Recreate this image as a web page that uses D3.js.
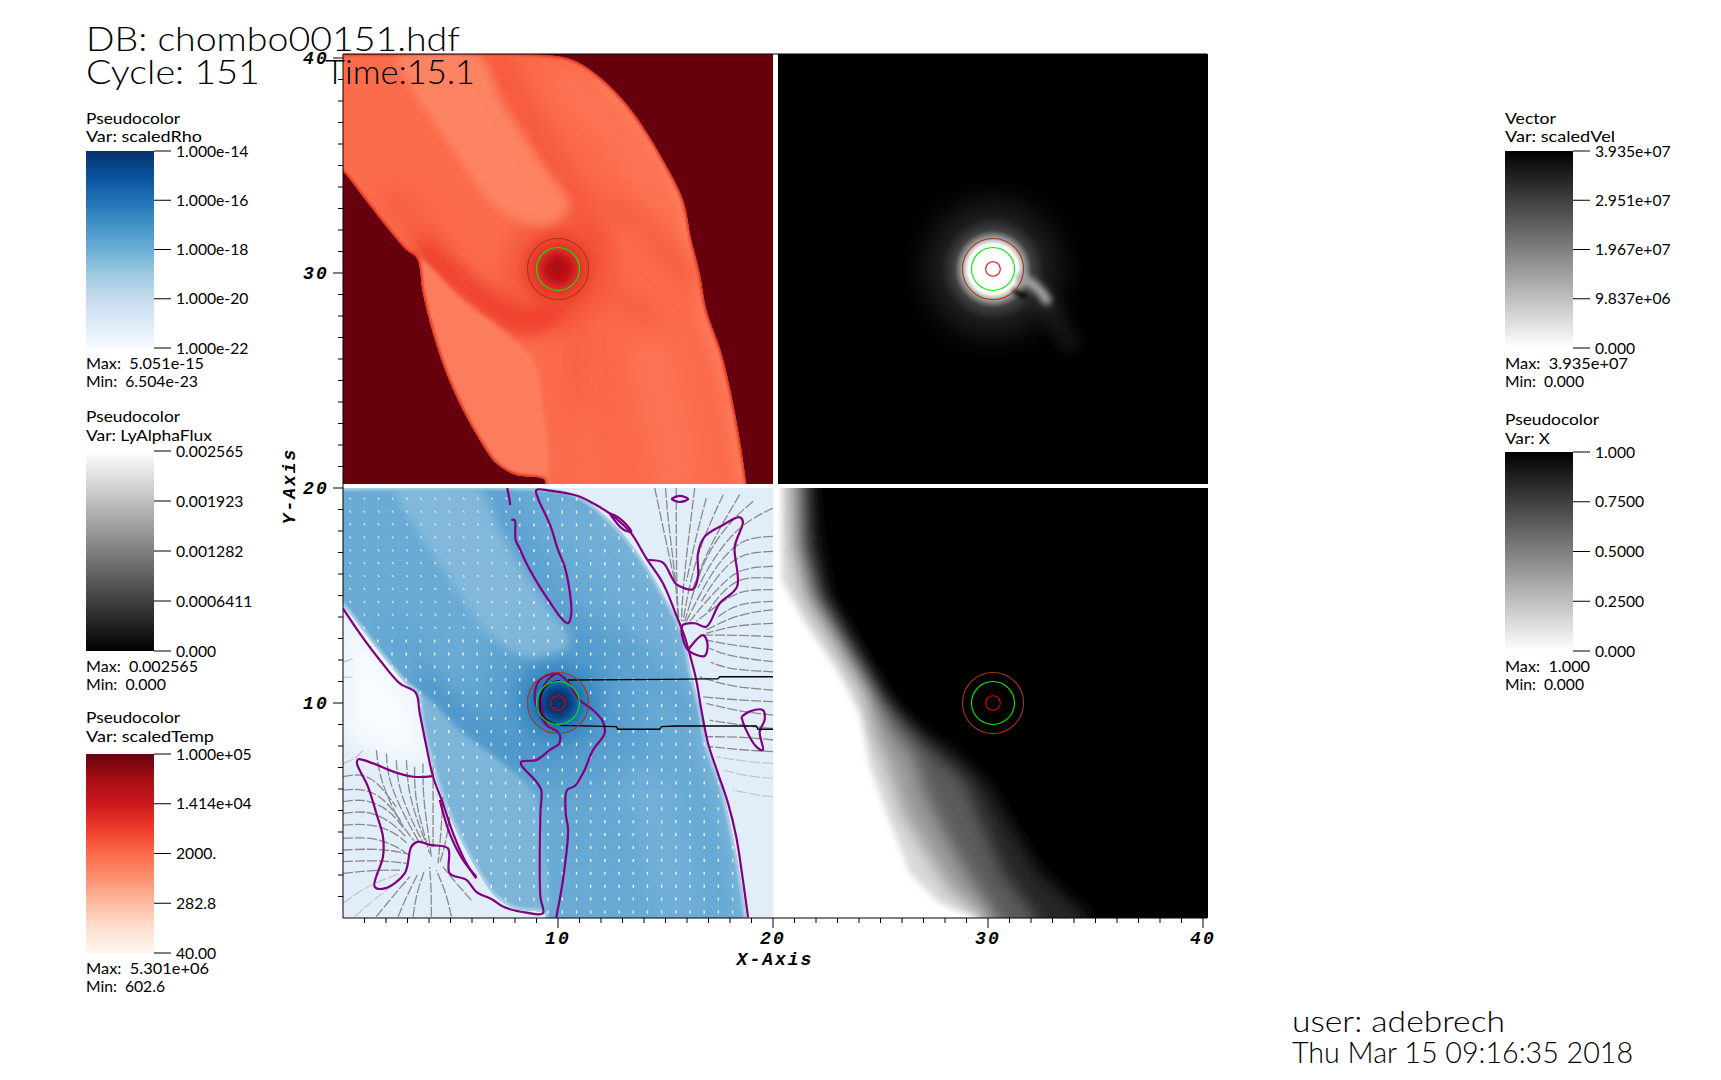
<!DOCTYPE html>
<html><head><meta charset="utf-8">
<script src="https://cdnjs.cloudflare.com/ajax/libs/d3/7.8.5/d3.min.js"></script>
<style>html,body{margin:0;padding:0;background:#fff}svg{display:block}text{font-family:Lato,"Open Sans",sans-serif;font-weight:400;fill:#000;white-space:pre}</style>
</head><body><div id="chart"></div>
<script>
// ---------- DATA (all coordinates in axis units of one 20x20 panel) ----------
const titleLines=["DB: chombo00151.hdf","Cycle: 151","Time:15.1"];
const footerLines=["user: adebrech","Thu Mar 15 09:16:35 2018"];
const xMajor=[10,20,30,40], yMajor=[10,20,30,40];
const rhoTicks=["1.000e-14","1.000e-16","1.000e-18","1.000e-20","1.000e-22"];
const lyaTicks=["0.002565","0.001923","0.001282","0.0006411","0.000"];
const tempTicks=["1.000e+05","1.414e+04","2000.","282.8","40.00"];
const velTicks=["3.935e+07","2.951e+07","1.967e+07","9.837e+06","0.000"];
const xTicks=["1.000","0.7500","0.5000","0.2500","0.000"];
const blues=['#08306b','#08519c','#2171b5','#4292c6','#6baed6','#9ecae1','#c6dbef','#deebf7','#f7fbff'];
const reds=['#67000d','#a50f15','#cb181d','#ef3b2c','#fb6a4a','#fc9272','#fcbba1','#fee0d2','#fff5f0'];
const blackToWhite=['#000000','#ffffff'];
const whiteToBlack=['#ffffff','#000000'];

const center=[10,10];
const ringRadii={red:0.34,green:1.0,brown:1.42};

const flowEdge=[[0,20],[10.08,19.88],[11.16,19.49],[12.09,18.79],[13.02,17.86],[13.95,16.62],[14.88,15.07],[15.81,13.21],[16.2,11.35],[16.59,9.8],[16.9,8.09],[17.6,6.08],[18.14,3.75],[18.53,1.58],[18.76,0],[18.85,-.6],[9.38,-.6],[9.38,.19],[8.06,.42],[7.13,.96],[6.36,2.05],[5.58,3.44],[4.81,5.15],[4.19,7.0],[3.72,8.87],[3.44,10.5],[2.95,10.88],[2.02,11.97],[.93,13.36],[0,14.53]];

const bandArcPoly=[[3.44,10.5],[5.58,8.56],[7.44,7.16],[8.99,6.93],[10.23,7.71],[10.54,8.87],[8.68,8.25],[6.82,9.18],[4.81,10.73],[3.72,11.5]];
const bandPeachPoly=[[3.44,10.5],[5.58,8.56],[7.44,7.16],[8.84,5.77],[9.3,3.6],[9.38,0],[7.13,0],[4.65,4.37],[3.44,8.25]];
const bandUpperPoly=[[2.48,20],[6.2,20],[7.44,17.7],[9.46,14.6],[10.54,12.9],[9.3,11.97],[7.13,12.9],[4.81,16.0],[3.26,18.33]];
const bandDiag=[[7.13,19.88],[8.53,17.09],[10.08,14.6],[11.16,12.9],[11.78,11.5],[11.78,10.57]];
const bandRightArm=[[12.4,12.9],[13.64,12.43],[15.04,10.73],[16.43,9.33]];
const bandDown=[[10.85,8.25],[10.78,5.92],[10.93,3.6]];
const bandWake=[[11.78,9.18],[13.33,8.4],[14.42,7.32]];
const bandLeftArm=[[2.33,13.36],[3.41,12.12],[4.5,10.73]];
const bandStreak=[[12.25,7.0],[12.25,3.6],[12.71,.03]];
const lightStripe=[[14.11,6.7],[14.88,3.6],[15.66,.03]];
const lightStripe2=[[11.47,5.15],[11.63,.03]];
const lightUpperRight=[[10.23,18.6],[12.56,16.8],[14.11,14.14],[15.04,11.97]];
const lightRim=[[12.09,18.79],[13.02,17.86],[13.95,16.62],[14.88,15.07],[15.81,13.21],[16.2,11.35],[16.59,9.8],[16.9,8.09],[17.6,6.08],[18.14,3.75],[18.53,1.58],[18.76,0]];
const pocketWhite=[[0,14.5],[3.4,10.4],[4.1,7.0],[1.5,7.6],[0,8.6]];

// purple contours of the lower-left panel
const contourA=[[7.64,20],[7.72,19.6],[7.78,19.21]];
const contourB=[[7.83,18.51],[7.98,18.51],[8.03,17.58],[8.22,17.19],[8.53,16.5],[9.15,15.41],[9.61,14.71],[10.16,13.94],[10.47,13.71],[10.62,14.17],[10.51,15.41],[10.31,16.34],[10.0,17.12],[9.69,18.12],[9.46,18.67],[9.07,19.52],[8.99,19.91],[9.61,19.88],[10.93,19.63],[11.63,19.29],[12.4,18.82],[12.87,18.43],[13.41,17.89],[14.11,16.73],[14.88,15.57],[15.5,14.09],[15.89,13.09],[16.2,12.0],[16.43,11.07],[16.67,9.67],[16.98,8.12],[17.44,6.73],[17.91,5.33],[18.29,3.78],[18.6,1.77],[18.84,.03]];
const contourLoop=[[12.4,18.82],[12.87,18.59],[13.41,17.97],[13.02,18.08],[12.4,18.82]];
const contourRightLobe=[[14.19,16.65],[14.88,16.53],[15.27,15.88],[15.5,15.53],[16.28,15.29],[16.51,15.88],[16.51,16.96],[16.82,17.74],[17.67,18.28],[18.45,18.64],[18.6,18.43],[18.22,17.27],[18.33,15.41],[17.52,14.64],[16.9,13.55],[16.36,13.71],[15.81,13.63],[15.74,13.4],[16.05,12.47],[16.82,12.19],[16.95,12.78],[16.74,13.16],[16.05,12.47]];
const contourEllipse=[[15.27,19.49],[15.66,19.63],[16.05,19.49],[15.66,19.35],[15.27,19.49]];
const contourSmallRight=[[18.53,9.36],[18.91,9.6],[19.53,9.67],[19.61,9.21],[19.38,8.67],[19.53,7.81],[19.22,7.97],[18.68,8.9],[18.53,9.36]];
const contourLeft=[[0,14.4],[.78,13.24],[1.71,12.0],[2.64,10.91],[3.38,10.48],[3.57,9.52],[3.88,7.97],[4.19,6.57],[4.65,5.33],[5.12,3.94],[5.74,2.54],[6.2,1.84]];
const contourLeftInner=[[4.5,5.49],[4.96,3.94],[5.58,2.7],[6.2,1.92]];
const contourLong=[[4.19,6.6],[3.26,6.57],[2.33,6.81],[1.4,7.19],[.7,7.38],[.65,7.19],[1.16,6.11],[1.55,4.87],[1.86,3.78],[1.86,2.85],[1.47,1.46],[1.94,1.38],[2.87,2.08],[3.18,3.32],[3.49,3.55],[4.03,3.4],[4.88,3.24],[4.96,2.08],[5.74,1.77],[6.2,1.22],[6.98,.84],[7.44,.53],[8.53,.25],[9.3,.22],[9.18,.99],[9.18,4.87],[9.22,5.95],[8.99,6.34],[8.29,7.12],[8.29,7.27],[8.99,7.35],[9.61,7.81],[10.05,8.12],[10.05,8.59],[9.46,8.98],[9.07,9.67],[8.91,10.29],[9.15,11.07],[9.92,11.38],[10.39,11.07],[11.01,10.14],[11.63,9.67],[12.09,9.13],[12.17,8.59],[11.63,7.81],[11.16,6.73],[10.78,6.14],[10.42,5.95],[10.36,4.87],[10.47,4.09],[10.23,1.77],[9.92,.03]];
const contourInnerArc=[[9.46,8.98],[9.3,9.6],[9.22,10.29],[9.46,11.0],[9.92,11.38]];

// black contour pieces
const blackTop=[[10.47,11.07],[14.96,11.1],[16.9,11.12],[17.44,11.12],[17.52,11.22],[20,11.22]];
const blackArc=[[10.08,11.04],[9.61,10.91],[9.22,10.45],[9.15,9.98],[9.3,9.36],[9.92,9.01]];
const blackBottom=[[10.08,8.96],[12.71,8.9],[12.79,8.78],[14.73,8.78],[14.81,8.9],[15.5,8.93],[19.22,8.93],[19.3,8.78],[20,8.78]];

// grey velocity streaks read from the outflow regions
const streaksDark=[
[[14.5,20],[14.89,18.14],[15.43,15.66]],[[15.0,20],[15.12,18.45],[15.51,15.5],[15.58,13.8]],[[15.5,20],[15.5,15.35],[15.63,13.8]],
[[16.36,20],[16.13,18.14],[15.82,15.5],[15.74,13.8]],[[16.9,19.53],[16.44,17.83],[15.97,15.66]],[[17.68,19.69],[16.75,17.67],[16.13,15.66],[15.82,13.8]],
[[18.45,19.69],[17.06,17.36],[16.28,15.35]],[[19.07,19.38],[18.0,18.45],[17,17.05],[16.44,15.66],[15.9,13.8]],[[20,19.07],[18.45,18.3],[17.22,16.74],[16.5,15.35]],
[[20,17.75],[18.45,17.67],[17.29,16.28],[16.59,15.04],[15.97,13.8]],[[20,17.05],[18.45,16.98],[17.44,15.97],[16.67,14.73]],[[20,16.36],[18.45,16.28],[17.6,15.5],[16.75,14.57],[16.13,13.8]],
[[20,15.81],[18.45,15.89],[17.52,15.04],[16.98,14.26]],[[20,15.27],[18.45,15.27],[17.44,14.57],[16.44,13.8]],[[20,14.73],[18.3,14.65],[17.37,13.95]],
[[20,14.33],[18.45,14.17],[16.9,13.4]],[[20,13.7],[18.29,13.63],[16.9,13.24]],[[20,13.09],[18.14,13.16],[16.59,13.16]],[[20,12.47],[17.98,12.7],[16.9,12.93]],[[20,11.92],[17.98,12.16],[17.05,12.54]],[[20,11.45],[18,11.55],[17.1,11.9]],
[[20,10.6],[17.98,10.76],[16.59,11.22]],[[20,10.06],[18.29,10.14],[16.74,10.29]],[[20,9.44],[18.45,9.6],[16.9,9.98]],[[20,8.82],[19,8.9],[17.05,9.2]],[[20,8.28],[18.6,8.43],[16.9,8.43]],[[20,7.74],[18.6,7.81],[17.05,7.97]],
[[1.55,7.81],[1.71,6.41],[2.64,4.4],[3.3,3.6]],[[2.02,7.65],[2.09,6.41],[2.87,4.71],[3.5,3.6]],[[2.48,7.34],[2.56,6.1],[3.18,4.55],[3.7,3.55]],[[2.95,7.34],[3.02,5.95],[3.49,4.4],[3.9,3.4]],
[[3.33,7.03],[3.33,5.64],[3.72,4.09],[4.03,3.0]],[[3.72,7.19],[3.72,5.64],[3.95,4.09],[4.11,2.85]],[[4.19,7.03],[4.19,5.33],[4.19,3.31]],[[4.65,5.64],[4.57,4.09],[4.42,2.54]],[[4.96,4.71],[4.81,3.62],[4.5,2.54]],
[[0,5.95],[.93,6.03],[1.86,5.64],[2.7,4.5]],[[0,6.57],[.78,6.72],[1.55,6.41],[2.48,5.17]],[[0,5.41],[1.09,5.56],[2.17,5.02],[2.8,4.2]],[[0,4.86],[1.24,5.02],[2.33,4.4],[2.9,3.8]],[[0,4.32],[1.4,4.4],[2.48,3.93],[2.95,3.5]],[[0,3.7],[1.4,3.78],[2.56,3.31],[3.1,2.9]],[[0,3.16],[1.71,3.24],[2.95,3.0]],[[0,2.62],[1.71,2.69],[2.95,2.54]],[[0,2.07],[1.4,2.23],[2.64,2.23]],
[[1.55,.06],[2.17,.83],[3.1,1.92]],[[2.56,.06],[2.95,.99],[3.49,2.07]],[[3.26,.06],[3.41,1.14],[3.8,2.23]],[[4.11,.06],[4.11,1.3],[4.03,2.38]],[[5.04,.06],[4.81,1.14],[4.34,2.23]],[[5.97,.83],[5.27,1.61],[4.65,2.38]]
];
const streaksFaint=[
[[20,7.19],[18.76,7.27],[17.36,7.5]],[[20,6.5],[18.91,6.57],[17.67,6.88]],[[20,5.64],[19.22,5.72],[18.14,5.95]],
[[0,7.19],[.62,7.42],[.93,7.81]],[[0,.68],[.62,1.14],[1.4,1.61],[2.64,2.07]],[[.54,.06],[1.4,.83],[2.64,1.76]],[[0,11.9],[.45,12.05]],[[0,11.2],[.45,11.2]]
];

// X-fraction contours of the lower-right panel, outermost first
const xLevelColors=['#262626','#5c5c5c','#9a9a9a','#dadada','#ffffff'];
const xLevels=[
[[1.64,20],[1.72,18.05],[2.34,14.95],[3.89,12.31],[5.13,10.14],[6.45,8.74],[8.16,7.66],[9.71,6.26],[10.95,4.09],[12.19,2.08],[14.51,0]],
[[1.26,20],[1.33,17.27],[1.95,14.95],[3.43,12.47],[4.74,10.29],[5.98,8.9],[7.38,7.5],[8.62,6.42],[9.55,4.25],[10.48,2.08],[12.03,0]],
[[.95,20],[1.02,17.27],[1.64,14.95],[3.04,12.62],[4.28,10.6],[5.21,8.9],[6.29,7.5],[6.91,5.64],[7.84,3.78],[8.93,1.92],[10.17,0]],
[[.56,20],[.64,17.27],[1.18,14.95],[2.57,12.78],[3.97,10.45],[4.43,8.59],[5.21,6.73],[5.83,4.87],[6.91,3.01],[8.0,1.3],[9.55,0]],
[[.17,20],[.17,15.72],[1.18,13.86],[2.73,11.53],[3.81,9.52],[4.28,7.04],[5.05,4.87],[6.14,2.08],[7.53,.68],[9.24,0]]
];

// Ly-alpha glow of the upper-right panel
const glowStops=[[0,'#ffffff'],[1.15,'#ffffff'],[1.42,'#a8a8a8'],[1.8,'#404040'],[2.4,'#1c1c1c'],[3.4,'#0a0a0a'],[4.6,'#00000000']];
const plumeCore=[[11.3,9.6],[12.03,9.15],[12.5,8.56]];
const plumeTail=[[11.9,9.0],[12.6,8.2],[13.72,6.23]];
const plumeNotch=[[11.0,8.95],[11.5,8.72]];

// radial stops around the sink for the temperature and density panels
const tempCore=[[0,'#a81015'],[.34,'#a81015'],[.6,'#c4161c'],[1.0,'#e2332a'],[1.4,'#ee4530'],[2.0,'#f14c3400']];
const rhoCore=[[0,'#08306b'],[.36,'#08306b'],[.7,'#0b4a90'],[1.0,'#1f6db1'],[1.5,'#3a8ac3'],[2.6,'#4a96ca00']];
const tempWide=[[0,'#f04a33e0'],[1.5,'#f04a33b0'],[3.2,'#f04a3300']];
const rhoWide=[[0,'#3f8bc3e0'],[2,'#4a94c8b0'],[5,'#4a94c800']];

// ---------- LAYOUT ----------
const W=1721,H=1080,PX=21.5;
const panels={tl:[343,54],tr:[778,54],bl:[343,488],br:[778,488]};
const sx=d3.scaleLinear([0,20],[0,20*PX]);
const sy=d3.scaleLinear([0,20],[20*PX,0]);
const xAxisScale=d3.scaleLinear([0,40],[343,1203]);
const yAxisScale=d3.scaleLinear([0,40],[918,58]);
const line=d3.line(d=>sx(d[0]),d=>sy(d[1]));
const smooth=d3.line(d=>sx(d[0]),d=>sy(d[1])).curve(d3.curveCatmullRom.alpha(.5));
const closed=d3.line(d=>sx(d[0]),d=>sy(d[1])).curve(d3.curveLinearClosed);
const smoothClosed=d3.line(d=>sx(d[0]),d=>sy(d[1])).curve(d3.curveCatmullRomClosed.alpha(.5));

const svg=d3.select('#chart').append('svg').attr('width',W).attr('height',H).attr('viewBox',`0 0 ${W} ${H}`);
const defs=svg.append('defs');
[1,2,3,5,8,12,16].forEach(s=>{
  defs.append('filter').attr('id','b'+s).attr('filterUnits','userSpaceOnUse').attr('x',-200).attr('y',-200).attr('width',900).attr('height',900)
    .append('feGaussianBlur').attr('stdDeviation',s);
});
defs.append('clipPath').attr('id','panelClip').append('rect').attr('width',sx(20)).attr('height',sy(0));
defs.append('clipPath').attr('id','flowClip').append('path').attr('d',smooth(flowEdge.concat([[-.5,14.9],[-.5,20.5],[0,20]])));

function radial(id,stops){
  const maxR=stops[stops.length-1][0];
  const g=defs.append('radialGradient').attr('id',id);
  stops.forEach(s=>g.append('stop').attr('offset',s[0]/maxR).attr('stop-color',s[1].slice(0,7)).attr('stop-opacity',s[1].length>7?parseInt(s[1].slice(7),16)/255:1));
  return maxR;
}
function panel(key){
  return svg.append('g').attr('transform',`translate(${panels[key]})`).append('g').attr('clip-path','url(#panelClip)');
}
function rings(g){
  const rows=[['#a5380f',ringRadii.brown],['#00f000',ringRadii.green],['#f00000',ringRadii.red]];
  g.selectAll('circle.ring').data(rows).join('circle').attr('class','ring')
   .attr('cx',sx(center[0])).attr('cy',sy(center[1])).attr('r',d=>sx(d[1])).attr('fill','none')
   .attr('stroke',d=>d[0]).attr('stroke-width',1.1);
}
function flow(g,p,coreId,coreR,wideId,wideR,edge){
  const f=g.append('g').attr('clip-path','url(#flowClip)');
  f.append('rect').attr('width',sx(20)).attr('height',sy(0)).attr('fill',p.base);
  const poly=(pts,c,b,o=1)=>f.append('path').attr('d',smoothClosed(pts)).attr('fill',c).attr('opacity',o).attr('filter',`url(#b${b})`);
  const band=(pts,c,w,b,o=1)=>f.append('path').attr('d',smooth(pts)).attr('fill','none').attr('stroke',c).attr('stroke-width',sx(w)).attr('stroke-linecap','round').attr('opacity',o).attr('filter',`url(#b${b})`);
  band(lightStripe,p.light,1.1,16,.5);
  band(lightStripe2,p.light,.35,8,.3);
  band(lightUpperRight,p.light,1.0,16,.5);
  band(lightRim,p.light,.55,8,.8);
  band(bandDiag,p.mid,1.1,12);
  band(bandRightArm,p.mid,.6,12);
  band(bandDown,p.mid,.5,12,.8);
  band(bandWake,p.mid,.6,12,.85);
  band(bandLeftArm,p.mid,.8,12,.85);
  band(bandStreak,p.mid,.4,12,.4);
  f.append('circle').attr('cx',sx(center[0])).attr('cy',sy(center[1])).attr('r',sx(wideR)).attr('fill',`url(#${wideId})`);
  poly(bandArcPoly,p.dark,8,.95);
  f.append('path').attr('d',smoothClosed(bandPeachPoly)).attr('fill',p.lightSoft).attr('filter','url(#b2)');
  poly(bandUpperPoly,p.light,5,.8);
  f.append('circle').attr('cx',sx(center[0])).attr('cy',sy(center[1])).attr('r',sx(coreR)).attr('fill',`url(#${coreId})`);
  g.append('path').attr('d',smooth(flowEdge.concat([[-.5,14.9]]))).attr('fill','none').attr('stroke',edge.color).attr('stroke-width',edge.width).attr('filter','url(#b1)').attr('clip-path','url(#flowClip)');
}

// Upper-left: temperature
const tl=panel('tl');
tl.append('rect').attr('width',sx(20)).attr('height',sy(0)).attr('fill','#67000d');
const rT=radial('tempCore',tempCore), rTw=radial('tempWide',tempWide);
flow(tl,{base:'#fb6c4c',light:'#fd8a6a',lightSoft:'#fc7d5d',mid:'#f45538',dark:'#ef3f2d'},'tempCore',rT,'tempWide',rTw,{color:'#e3301f',width:3.5});
rings(tl);

// Upper-right: Ly-alpha flux
const tr=panel('tr');
tr.append('rect').attr('width',sx(20)).attr('height',sy(0)).attr('fill','#000');
const rG=radial('glow',glowStops);
tr.append('circle').attr('cx',sx(center[0])).attr('cy',sy(center[1])).attr('r',sx(rG)).attr('fill','url(#glow)');
tr.append('path').attr('d',smooth(plumeTail)).attr('fill','none').attr('stroke','#4a4a4a').attr('stroke-width',sx(.9)).attr('filter','url(#b8)').attr('opacity',.3);
tr.append('path').attr('d',smooth(plumeCore)).attr('fill','none').attr('stroke','#a4a4a4').attr('stroke-width',sx(.45)).attr('stroke-linecap','round').attr('filter','url(#b3)');
tr.append('path').attr('d',smooth(plumeNotch)).attr('fill','none').attr('stroke','#000').attr('stroke-width',sx(.2)).attr('stroke-linecap','round').attr('filter','url(#b2)');
rings(tr);

// Lower-right: X fraction
const br=panel('br');
br.append('rect').attr('width',sx(20)).attr('height',sy(0)).attr('fill','#000');
xLevels.forEach((lv,i)=>{
  const pts=[[lv[0][0],23],...lv,[lv[lv.length-1][0],-3],[-3,-3],[-3,23]];
  br.append('path').attr('d',closed(pts)).attr('fill',xLevelColors[i]).attr('filter',`url(#b${i>=4?3:8})`);
});
rings(br);

// Lower-left: density + vectors + contours
const bl=panel('bl');
bl.append('rect').attr('width',sx(20)).attr('height',sy(0)).attr('fill','#e1edf8');
bl.append('path').attr('d',closed(pocketWhite)).attr('fill','#f8fbff').attr('filter','url(#b12)');
const rR=radial('rhoCore',rhoCore), rRw=radial('rhoWide',rhoWide);
flow(bl,{base:'#69abd5',light:'#88bcdc',lightSoft:'#7db5d9',mid:'#5a9fd0',dark:'#4f98cb'},'rhoCore',rR,'rhoWide',rRw,{color:'#a9cfe6',width:5});
// white flow glyphs in the interior
const dotCols=d3.range(.3,20,.66), dotRows=d3.range(.35,20,.6);
const dots=[];
dotRows.forEach(v=>dotCols.forEach(u=>{
  if(d3.polygonContains(flowEdge,[u,v])&&Math.hypot(u-center[0],v-center[1])>1.55) dots.push([u,v]);
}));
bl.append('g').selectAll('line').data(dots).join('line')
  .attr('x1',d=>sx(d[0])).attr('y1',d=>sy(d[1]))
  .attr('x2',d=>sx(d[0])+(d[1]>13&&d[0]<8?1.5:0)).attr('y2',d=>sy(d[1])+(d[1]>13&&d[0]<8?2:3))
  .attr('stroke','#fff').attr('stroke-width',1.3).attr('opacity',d=>d[1]>13&&d[0]<8?.7:.95);
const streak=d3.line(d=>sx(d[0]),d=>sy(d[1])).curve(d3.curveBasis);
bl.append('g').selectAll('path').data(streaksFaint).join('path').attr('d',streak).attr('fill','none').attr('stroke','#c4c4c4').attr('stroke-width',1.2).attr('stroke-dasharray','11 2');
bl.append('g').selectAll('path').data(streaksDark).join('path').attr('d',streak).attr('fill','none').attr('stroke','#8a8a8a').attr('stroke-width',1.3).attr('stroke-dasharray','10 2');
[contourA,contourB,contourLoop,contourRightLobe,contourEllipse,contourSmallRight,contourLeft,contourLeftInner,contourLong,contourInnerArc].forEach(c=>{
  bl.append('path').attr('d',smooth(c)).attr('fill','none').attr('stroke','#800080').attr('stroke-width',2.2);
});
[blackTop,blackArc,blackBottom].forEach(c=>{
  bl.append('path').attr('d',c===blackArc?smooth(c):line(c)).attr('fill','none').attr('stroke','#000').attr('stroke-width',1.3);
});
rings(bl);

// ---------- AXES ----------
const tickFont='"Liberation Mono",monospace';
const minorX=d3.range(1,41).filter(d=>d%10), minorY=minorX;
const ax=svg.append('g').attr('transform','translate(0,918)');
ax.call(d3.axisBottom(xAxisScale).tickValues(minorX).tickSize(5).tickFormat('').offset(0));
ax.select('.domain').remove();
const axM=svg.append('g').attr('transform','translate(0,918)');
axM.call(d3.axisBottom(xAxisScale).tickValues(xMajor).tickSize(10).tickPadding(4).offset(0));
axM.select('.domain').remove();
const ay=svg.append('g').attr('transform','translate(343,0)');
ay.call(d3.axisLeft(yAxisScale).tickValues(minorY).tickSize(5).tickFormat('').offset(0));
ay.select('.domain').remove();
const ayM=svg.append('g').attr('transform','translate(343,0)');
ayM.call(d3.axisLeft(yAxisScale).tickValues(yMajor).tickSize(10).tickPadding(4).offset(0));
ayM.select('.domain').remove();
svg.selectAll('.tick line').attr('stroke','#000');
svg.selectAll('.tick text').attr('font-family',tickFont).style('font-family',tickFont).style('font-weight','bold').style('font-style','italic').style('font-size','18px').style('letter-spacing','2.2px').style('fill','#000');
axM.selectAll('.tick text').attr('y',13);
svg.append('path').attr('d','M343,54V918H1207').attr('fill','none').attr('stroke','#000');
svg.append('path').attr('d','M343,54H1207').attr('fill','none').attr('stroke','#000');
const axisTitle=(t,x,y,rot)=>svg.append('text').attr('transform',`translate(${x},${y}) rotate(${rot})`).attr('text-anchor','middle').text(t)
  .style('font-family',tickFont).style('font-weight','bold').style('font-style','italic').style('font-size','18px').style('letter-spacing','2px').style('fill','#000');
axisTitle('X-Axis',775,965,0);
axisTitle('Y-Axis',295,486,-90);

// ---------- LEGENDS ----------
function label(x,y,t,size=16,width=null,weight=null){
  const el=svg.append('text').attr('x',x).attr('y',y).attr('font-size',size).text(t);
  if(weight) el.style('font-weight',weight);
  if(width) el.attr('textLength',width).attr('lengthAdjust','spacingAndGlyphs');
  return el;
}
function legend(o){
  const id='cb'+o.name.replace(/\W/g,'');
  const g=defs.append('linearGradient').attr('id',id).attr('x1',0).attr('y1',0).attr('x2',0).attr('y2',1);
  o.colors.forEach((c,i)=>g.append('stop').attr('offset',i/(o.colors.length-1)).attr('stop-color',c));
  svg.append('rect').attr('x',o.x).attr('y',o.top).attr('width',68).attr('height',o.bottom-o.top).attr('fill',`url(#${id})`);
  label(o.x,o.titleY,o.kind,16,o.kindW);
  label(o.x,o.titleY+o.gap,o.name,16,o.nameW);
  const y=d3.scalePoint().domain(o.ticks).range([o.top,o.bottom]);
  o.ticks.forEach(t=>{
    svg.append('line').attr('x1',o.x+68).attr('x2',o.x+85).attr('y1',y(t)).attr('y2',y(t)).attr('stroke','#000');
    const el=label(o.x+90,y(t)+5.5,t,16);
    el.attr('textLength',el.node().getComputedTextLength()*.98).attr('lengthAdjust','spacingAndGlyphs');
  });
  label(o.x,o.maxY,o.max,16,o.maxW);
  label(o.x,o.maxY+18,o.min,16,o.minW);
}
legend({x:86,titleY:124,gap:18,top:151,bottom:348,kind:'Pseudocolor',kindW:94,name:'Var: scaledRho',nameW:116,ticks:rhoTicks,colors:blues,maxY:369,max:'Max:  5.051e-15',maxW:118,min:'Min:  6.504e-23',minW:112});
legend({x:86,titleY:422,gap:18.5,top:451,bottom:651,kind:'Pseudocolor',kindW:94,name:'Var: LyAlphaFlux',nameW:126,ticks:lyaTicks,colors:whiteToBlack,maxY:671.5,max:'Max:  0.002565',maxW:112,min:'Min:  0.000',minW:80});
legend({x:86,titleY:723,gap:18.5,top:754,bottom:953,kind:'Pseudocolor',kindW:94,name:'Var: scaledTemp',nameW:128,ticks:tempTicks,colors:reds,maxY:974,max:'Max:  5.301e+06',maxW:123,min:'Min:  602.6',minW:79});
legend({x:1505,titleY:124,gap:18,top:151,bottom:348,kind:'Vector',kindW:51,name:'Var: scaledVel',nameW:110,ticks:velTicks,colors:blackToWhite,maxY:369,max:'Max:  3.935e+07',maxW:123,min:'Min:  0.000',minW:79});
legend({x:1505,titleY:425,gap:18.5,top:452,bottom:651,kind:'Pseudocolor',kindW:94,name:'Var: X',nameW:45,ticks:xTicks,colors:blackToWhite,maxY:672,max:'Max:  1.000',maxW:85,min:'Min:  0.000',minW:79});

// ---------- HEADER / FOOTER ----------
label(86,51,titleLines[0],34,374,300);
label(86,84,titleLines[1],34,174,300);
label(325,84,titleLines[2],34,150,300);
label(1292,1032,footerLines[0],30,213,300);
label(1292,1063,footerLines[1],30,341,300);
</script></body></html>
